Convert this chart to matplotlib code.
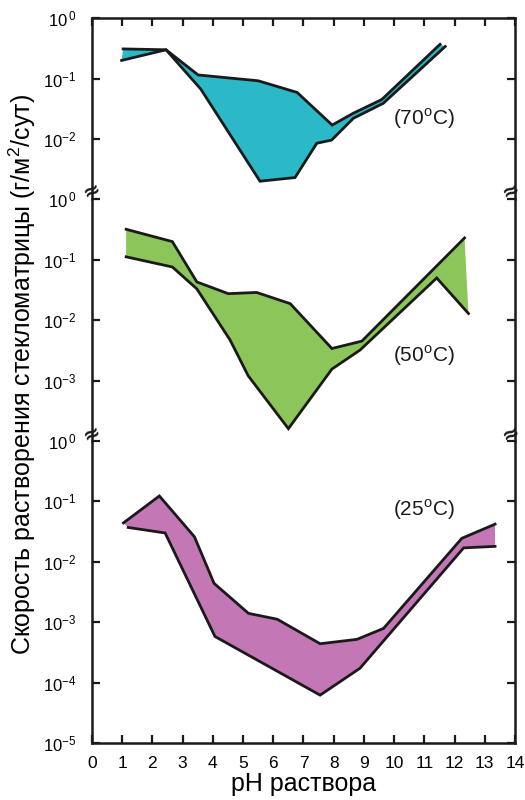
import numpy as np
import matplotlib
matplotlib.use("Agg")
import matplotlib.pyplot as plt
from matplotlib.ticker import FixedLocator, NullLocator, FuncFormatter

plt.rcParams['font.family'] = ['Liberation Sans', 'DejaVu Sans']
plt.rcParams['mathtext.fontset'] = 'custom'
plt.rcParams['mathtext.rm'] = 'Liberation Sans'

# ---- data: (pH, rate g/m2/day) ----
# 70 C
ph70_up = [1.03, 2.45, 3.51, 5.50, 6.79, 7.95, 8.64, 9.59, 11.52]
r70_up = [0.31, 0.30, 0.115, 0.092, 0.059, 0.017, 0.0266, 0.045, 0.37]
ph70_lo = [0.98, 2.45, 3.60, 5.56, 6.72, 7.44, 7.93, 8.65, 9.64, 11.69]
r70_lo = [0.20, 0.30, 0.067, 0.0020, 0.0023, 0.0085, 0.0096, 0.022, 0.039, 0.34]

# 50 C
ph50_up = [1.13, 2.66, 3.47, 4.51, 5.45, 6.56, 7.94, 8.93, 12.33]
r50_up = [0.32, 0.20, 0.043, 0.0275, 0.0288, 0.0188, 0.0034, 0.0045, 0.23]
ph50_lo = [1.13, 2.66, 3.47, 4.57, 5.17, 6.50, 7.94, 8.87, 11.41, 12.46]
r50_lo = [0.112, 0.076, 0.033, 0.0047, 0.0012, 0.00016, 0.00155, 0.0032, 0.050, 0.0129]

# 25 C
ph25_up = [1.04, 2.23, 3.39, 4.04, 5.18, 6.13, 7.55, 8.77, 9.65, 12.24, 13.34]
r25_up = [0.044, 0.123, 0.026, 0.0044, 0.0014, 0.00112, 0.00044, 0.00052, 0.00079, 0.0245, 0.042]
ph25_lo = [1.20, 2.42, 4.07, 7.55, 8.87, 12.30, 13.34]
r25_lo = [0.037, 0.030, 0.00058, 0.000062, 0.000173, 0.017, 0.018]

panel_labels = ['(70$^{\\mathregular{o}}$C)', '(50$^{\\mathregular{o}}$C)', '(25$^{\\mathregular{o}}$C)']
xticks = list(range(0, 15))

colors = ['#2BB8C7', '#8CC65A', '#C377B5']

fig = plt.figure(figsize=(5.25, 8.0), dpi=100)
gs = fig.add_gridspec(3, 1, height_ratios=[3, 4, 5], hspace=0,
                      left=92/525, right=515/525, top=1-18.2/800, bottom=1-743/800)
axes = [fig.add_subplot(gs[i]) for i in range(3)]

panels = [
    (ph70_up, r70_up, ph70_lo, r70_lo, 1e-3, [1, 1e-1, 1e-2]),
    (ph50_up, r50_up, ph50_lo, r50_lo, 1e-4, [1, 1e-1, 1e-2, 1e-3]),
    (ph25_up, r25_up, ph25_lo, r25_lo, 1e-5, [1, 1e-1, 1e-2, 1e-3, 1e-4, 1e-5]),
]
label_pos = [(11.0, 0.022), (11.0, 0.0026), (11.0, 0.072)]

def fmt(v, pos):
    e = int(round(np.log10(v)))
    if e == 0:
        return '$\\mathregular{10^{\\,0}}$'
    return '$\\mathregular{10^{%d}}$' % e

for i, (ax, (xu, yu, xl, yl, ymin, yt)) in enumerate(zip(axes, panels)):
    ax.set_yscale('log')
    ax.set_xlim(0, 14)
    ax.set_ylim(ymin, 1)
    px = np.concatenate([xu, xl[::-1]])
    py = np.concatenate([yu, yl[::-1]])
    ax.fill(px, py, facecolor=colors[i], edgecolor='none', zorder=2)
    ax.plot(xu, yu, color='#1a1a1a', lw=2.0, zorder=3, solid_joinstyle='miter')
    ax.plot(xl, yl, color='#1a1a1a', lw=2.0, zorder=3, solid_joinstyle='miter')
    ax.yaxis.set_major_locator(FixedLocator(yt))
    ax.yaxis.set_minor_locator(NullLocator())
    ax.yaxis.set_major_formatter(FuncFormatter(fmt))
    ax.set_xticks(xticks)
    ax.tick_params(axis='both', direction='in', length=6, width=1.6, color='#1a1a1a')
    ax.tick_params(axis='y', right=True, pad=11, labelsize=12)
    ax.tick_params(axis='x', top=(i == 0), bottom=(i == 2), labelbottom=(i == 2),
                   labelsize=12.5, pad=9)
    for s in ax.spines.values():
        s.set_linewidth(1.8)
        s.set_color('#1a1a1a')
    if i > 0:
        ax.spines['top'].set_visible(False)
    if i < 2:
        ax.spines['bottom'].set_visible(False)
    ax.text(label_pos[i][0], label_pos[i][1], panel_labels[i], fontsize=15,
            ha='center', va='center', color='#1a1a1a')

axes[2].set_xlabel('pH раствора', fontsize=18, labelpad=1)
fig.text(0.042, (1 - 374/800), 'Скорость растворения стекломатрицы (г/м$^{\\mathregular{2}}$/сут)',
         rotation=90, fontsize=18, ha='center', va='center')

# axis-break marks
for ypx in [191, 434]:
    for xpx in [92, 511]:
        fig.text(xpx/525, 1 - ypx/800, '≈', fontsize=15, fontweight='bold',
                 family='DejaVu Sans', ha='center', va='center', rotation=25, color='#1a1a1a')

fig.savefig('out.png', dpi=100)
